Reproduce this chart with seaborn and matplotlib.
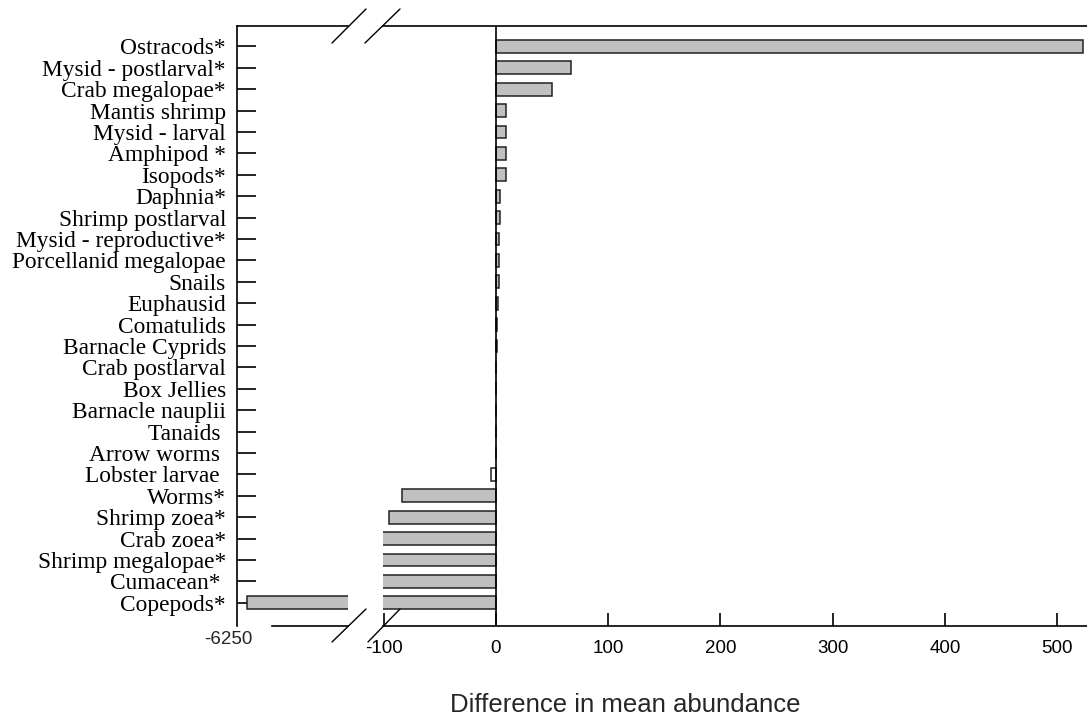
import seaborn as sns
import matplotlib.pyplot as plt
import matplotlib.lines as mlines

# categorias y diferencias de abundancia media
taxa = ['Ostracods*', 'Mysid - postlarval*', 'Crab megalopae*', 'Mantis shrimp',
        'Mysid - larval', 'Amphipod *', 'Isopods*', 'Daphnia*', 'Shrimp postlarval',
        'Mysid - reproductive*', 'Porcellanid megalopae', 'Snails', 'Euphausid',
        'Comatulids', 'Barnacle Cyprids', 'Crab postlarval', 'Box Jellies',
        'Barnacle nauplii', 'Tanaids ', 'Arrow worms ', 'Lobster larvae ', 'Worms*',
        'Shrimp zoea*', 'Crab zoea*', 'Shrimp megalopae*', 'Cumacean* ', 'Copepods*']
diferencia = [523, 67, 50, 9, 9, 8.5, 9, 3.3, 3.5, 3, 3, 2.5, 1.5, 1.2, 0.5, 0.3,
              0.2, 0.1, 0.1, 0.1, -4.7, -84, -95, -150, -130, -120, -6285]
colores = {t: ('white' if t.startswith('Lobster') else '#c0c0c0') for t in taxa}

etiqueta_izq = '-6250'
ticks_der = [-100, 0, 100, 200, 300, 400, 500]

sns.set_style('white')
plt.rcParams['font.family'] = ['Liberation Sans', 'DejaVu Sans']

W, H = 1087, 719
fig = plt.figure(figsize=(W / 100, H / 100), dpi=100)
abajo = 1 - 626 / H
alto = (626 - 26) / H
ax_izq = fig.add_axes([237 / W, abajo, 111 / W, alto])
ax_der = fig.add_axes([383 / W, abajo, (W - 383) / W, alto])

n = len(taxa)
for ax in (ax_izq, ax_der):
    sns.barplot(x=diferencia, y=taxa, hue=taxa, palette=colores, legend=False,
                orient='h', ax=ax, width=0.6, saturation=1,
                edgecolor='#222222', linewidth=1.1)
    ax.set_ylim(n - 1 + 1.08, -0.95)
    ax.set_xlabel('')
    ax.set_ylabel('')
    ax.spines['right'].set_visible(False)
    for s in ('top', 'bottom', 'left'):
        ax.spines[s].set_linewidth(1.2)
        ax.spines[s].set_color('black')
    ax.tick_params(axis='x', bottom=True, direction='in', length=9.5, width=1.2,
                   pad=10, labelsize=13.5, colors='black')

ax_izq.set_xlim(-6300, -6140)
ax_izq.set_xticks([])
ax_izq.spines['bottom'].set_bounds(-6250, -6140)
ax_izq.tick_params(axis='y', left=True, direction='in', length=13.5, width=1.2,
                   pad=8, colors='black')
for lab in ax_izq.get_yticklabels():
    lab.set_fontfamily(['Liberation Serif', 'DejaVu Serif'])
    lab.set_fontsize(16.8)
fig.text(228 / W, 1 - 640 / H, etiqueta_izq, ha='center', va='center',
         fontsize=13.5)

ax_der.set_xlim(-100.7, 526.7)
ax_der.set_xticks(ticks_der)
ax_der.set_xticklabels([str(t) for t in ticks_der])
ax_der.spines['left'].set_visible(False)
ax_der.tick_params(axis='y', left=False, labelleft=False)
ax_der.axvline(0, color='black', lw=1.2)

# marcas de corte del eje
for (x0, y0, x1, y1) in [(332, 43, 366, 9), (365, 43, 400, 9),
                         (332, 642, 366, 609), (368, 642, 400, 609)]:
    fig.add_artist(mlines.Line2D([x0 / W, x1 / W], [1 - y0 / H, 1 - y1 / H],
                                 color='black', lw=1, transform=fig.transFigure))

fig.text(625 / W, 1 - 705 / H, 'Difference in mean abundance', ha='center',
         va='center', fontsize=18.5)

fig.savefig('out.png', dpi=100)
